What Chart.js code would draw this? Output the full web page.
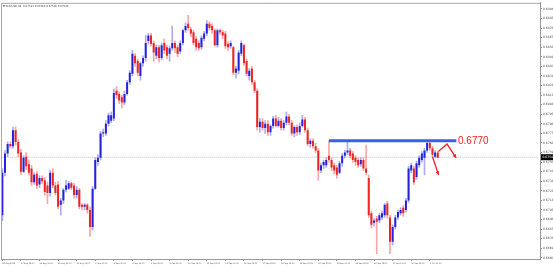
<!DOCTYPE html>
<html>
<head>
<meta charset="utf-8">
<script src="https://cdn.jsdelivr.net/npm/chart.js@4.4.0/dist/chart.umd.min.js"></script>
<style>
  html, body { margin: 0; padding: 0; background: #fff; }
  #wrap { width: 553px; height: 267px; position: relative; }
</style>
</head>
<body>
<div id="wrap"><canvas id="chart"></canvas></div>
<script>
// AUDUSD H4

const tickLabels = [
  "26 Aug 2019", "27 Aug 04:00", "28 Aug 08:00", "29 Aug 12:00", "30 Aug 16:00",
  "2 Sep 20:00", "4 Sep 00:00", "5 Sep 04:00", "6 Sep 08:00", "9 Sep 12:00",
  "10 Sep 16:00", "11 Sep 20:00", "13 Sep 00:00", "16 Sep 04:00", "17 Sep 08:00",
  "18 Sep 12:00", "19 Sep 16:00", "20 Sep 20:00", "24 Sep 00:00", "25 Sep 04:00",
  "26 Sep 08:00", "27 Sep 12:00", "30 Sep 16:00", "1 Oct 20:00"
];

const priceTicks = [
  0.6894, 0.6885, 0.6876, 0.6867, 0.6858, 0.6849, 0.6840, 0.6831, 0.6822,
  0.6813, 0.6804, 0.6795, 0.6786, 0.6777, 0.6768, 0.6759, 0.6750, 0.6741,
  0.6732, 0.6723, 0.6714, 0.6705, 0.6696, 0.6687, 0.6678, 0.6669, 0.6660
];

const open = [
  0.6700, 0.6740, 0.6758, 0.6767, 0.6765, 0.6780, 0.6769, 0.6759, 0.6741, 0.6755,
  0.6748, 0.6744, 0.6731, 0.6739, 0.6729, 0.6735, 0.6733, 0.6728, 0.6721, 0.6740,
  0.6728, 0.6729, 0.6710, 0.6714, 0.6724, 0.6725, 0.6730, 0.6728, 0.6719, 0.6724,
  0.6710, 0.6708, 0.6710, 0.6705, 0.6689, 0.6725, 0.6750, 0.6754, 0.6777, 0.6777,
  0.6786, 0.6789, 0.6791, 0.6817, 0.6814, 0.6811, 0.6806, 0.6814, 0.6825, 0.6833,
  0.6850, 0.6845, 0.6831, 0.6843, 0.6848, 0.6864, 0.6869, 0.6862, 0.6850, 0.6858,
  0.6848, 0.6862, 0.6858, 0.6852, 0.6857, 0.6862, 0.6858, 0.6854, 0.6862, 0.6874,
  0.6880, 0.6875, 0.6872, 0.6866, 0.6862, 0.6858, 0.6866, 0.6871, 0.6880, 0.6878,
  0.6874, 0.6860, 0.6874, 0.6872, 0.6871, 0.6861, 0.6859, 0.6858, 0.6834, 0.6836,
  0.6852, 0.6860, 0.6845, 0.6831, 0.6838, 0.6825, 0.6817, 0.6783, 0.6788, 0.6782,
  0.6786, 0.6778, 0.6784, 0.6791, 0.6784, 0.6789, 0.6782, 0.6787, 0.6793, 0.6787,
  0.6777, 0.6783, 0.6778, 0.6784, 0.6790, 0.6780, 0.6767, 0.6770, 0.6765, 0.6761,
  0.6742, 0.6747, 0.6747, 0.6756, 0.6752, 0.6747, 0.6745, 0.6740, 0.6749, 0.6756,
  0.6759, 0.6761, 0.6758, 0.6754, 0.6752, 0.6748, 0.6752, 0.6744, 0.6735, 0.6702,
  0.6693, 0.6697, 0.6695, 0.6698, 0.6700, 0.6711, 0.6698, 0.6675, 0.6689, 0.6698,
  0.6702, 0.6707, 0.6705, 0.6714, 0.6742, 0.6744, 0.6736, 0.6747, 0.6752, 0.6754,
  0.6761, 0.6768, 0.6763, 0.6755, 0.6759
];

const high = [
  0.6744, 0.6761, 0.6769, 0.6769, 0.6783, 0.6783, 0.6771, 0.6762, 0.6756, 0.6759,
  0.6752, 0.6747, 0.6740, 0.6741, 0.6737, 0.6737, 0.6736, 0.6731, 0.6742, 0.6744,
  0.6731, 0.6732, 0.6716, 0.6725, 0.6733, 0.6732, 0.6731, 0.6730, 0.6727, 0.6725,
  0.6711, 0.6711, 0.6711, 0.6708, 0.6727, 0.6754, 0.6757, 0.6779, 0.6781, 0.6789,
  0.6796, 0.6797, 0.6819, 0.6821, 0.6816, 0.6813, 0.6817, 0.6827, 0.6836, 0.6855,
  0.6852, 0.6847, 0.6844, 0.6850, 0.6869, 0.6871, 0.6871, 0.6864, 0.6860, 0.6860,
  0.6862, 0.6866, 0.6860, 0.6859, 0.6878, 0.6864, 0.6860, 0.6864, 0.6875, 0.6881,
  0.6888, 0.6877, 0.6874, 0.6868, 0.6864, 0.6869, 0.6873, 0.6883, 0.6882, 0.6880,
  0.6875, 0.6875, 0.6875, 0.6874, 0.6873, 0.6863, 0.6864, 0.6859, 0.6840, 0.6855,
  0.6864, 0.6861, 0.6847, 0.6838, 0.6840, 0.6827, 0.6819, 0.6791, 0.6791, 0.6789,
  0.6789, 0.6785, 0.6793, 0.6794, 0.6792, 0.6791, 0.6789, 0.6797, 0.6795, 0.6789,
  0.6784, 0.6785, 0.6787, 0.6794, 0.6792, 0.6782, 0.6772, 0.6772, 0.6768, 0.6763,
  0.6749, 0.6752, 0.6754, 0.6770, 0.6754, 0.6749, 0.6747, 0.6751, 0.6758, 0.6761,
  0.6769, 0.6763, 0.6760, 0.6756, 0.6754, 0.6754, 0.6754, 0.6766, 0.6738, 0.6704,
  0.6697, 0.6699, 0.6702, 0.6704, 0.6711, 0.6713, 0.6700, 0.6691, 0.6700, 0.6705,
  0.6707, 0.6709, 0.6716, 0.6746, 0.6749, 0.6746, 0.6751, 0.6756, 0.6760, 0.6763,
  0.6770, 0.6770, 0.6765, 0.6761, 0.6760
];

const low = [
  0.6695, 0.6737, 0.6755, 0.6763, 0.6763, 0.6766, 0.6755, 0.6738, 0.6740, 0.6743,
  0.6738, 0.6728, 0.6729, 0.6725, 0.6726, 0.6730, 0.6719, 0.6711, 0.6718, 0.6726,
  0.6719, 0.6706, 0.6700, 0.6711, 0.6722, 0.6724, 0.6724, 0.6716, 0.6716, 0.6706,
  0.6705, 0.6705, 0.6702, 0.6680, 0.6686, 0.6724, 0.6747, 0.6752, 0.6774, 0.6775,
  0.6784, 0.6787, 0.6789, 0.6810, 0.6805, 0.6801, 0.6804, 0.6813, 0.6823, 0.6831,
  0.6840, 0.6831, 0.6827, 0.6840, 0.6845, 0.6861, 0.6859, 0.6845, 0.6847, 0.6844,
  0.6846, 0.6852, 0.6847, 0.6845, 0.6855, 0.6853, 0.6849, 0.6852, 0.6860, 0.6872,
  0.6874, 0.6868, 0.6860, 0.6855, 0.6855, 0.6856, 0.6864, 0.6869, 0.6874, 0.6871,
  0.6859, 0.6858, 0.6870, 0.6866, 0.6857, 0.6855, 0.6857, 0.6832, 0.6829, 0.6833,
  0.6850, 0.6841, 0.6831, 0.6827, 0.6823, 0.6815, 0.6780, 0.6778, 0.6780, 0.6777,
  0.6775, 0.6775, 0.6782, 0.6783, 0.6783, 0.6780, 0.6780, 0.6785, 0.6785, 0.6775,
  0.6774, 0.6775, 0.6776, 0.6783, 0.6778, 0.6765, 0.6764, 0.6763, 0.6759, 0.6733,
  0.6740, 0.6744, 0.6745, 0.6750, 0.6742, 0.6739, 0.6735, 0.6739, 0.6746, 0.6754,
  0.6757, 0.6754, 0.6750, 0.6747, 0.6745, 0.6746, 0.6742, 0.6738, 0.6698, 0.6688,
  0.6690, 0.6664, 0.6693, 0.6696, 0.6698, 0.6697, 0.6664, 0.6672, 0.6687, 0.6696,
  0.6700, 0.6699, 0.6703, 0.6712, 0.6740, 0.6729, 0.6734, 0.6745, 0.6750, 0.6738,
  0.6759, 0.6761, 0.6755, 0.6754, 0.6754
];

const close = [
  0.6740, 0.6758, 0.6767, 0.6765, 0.6780, 0.6769, 0.6758, 0.6741, 0.6754, 0.6746,
  0.6740, 0.6731, 0.6738, 0.6728, 0.6735, 0.6732, 0.6722, 0.6721, 0.6740, 0.6728,
  0.6721, 0.6708, 0.6714, 0.6724, 0.6728, 0.6730, 0.6726, 0.6719, 0.6724, 0.6708,
  0.6708, 0.6710, 0.6705, 0.6689, 0.6725, 0.6752, 0.6754, 0.6777, 0.6778, 0.6786,
  0.6794, 0.6794, 0.6815, 0.6813, 0.6808, 0.6806, 0.6814, 0.6825, 0.6834, 0.6852,
  0.6843, 0.6834, 0.6843, 0.6848, 0.6862, 0.6869, 0.6861, 0.6853, 0.6858, 0.6848,
  0.6860, 0.6855, 0.6850, 0.6857, 0.6862, 0.6857, 0.6852, 0.6862, 0.6874, 0.6878,
  0.6876, 0.6871, 0.6862, 0.6858, 0.6857, 0.6867, 0.6871, 0.6880, 0.6876, 0.6874,
  0.6860, 0.6874, 0.6872, 0.6869, 0.6859, 0.6858, 0.6862, 0.6834, 0.6838, 0.6853,
  0.6862, 0.6843, 0.6833, 0.6836, 0.6825, 0.6817, 0.6783, 0.6788, 0.6782, 0.6786,
  0.6778, 0.6784, 0.6791, 0.6784, 0.6789, 0.6782, 0.6787, 0.6793, 0.6787, 0.6777,
  0.6783, 0.6778, 0.6784, 0.6790, 0.6780, 0.6767, 0.6770, 0.6765, 0.6761, 0.6742,
  0.6747, 0.6750, 0.6752, 0.6752, 0.6745, 0.6742, 0.6738, 0.6749, 0.6756, 0.6759,
  0.6761, 0.6756, 0.6752, 0.6750, 0.6747, 0.6752, 0.6744, 0.6740, 0.6700, 0.6691,
  0.6695, 0.6694, 0.6700, 0.6702, 0.6710, 0.6700, 0.6675, 0.6689, 0.6698, 0.6703,
  0.6705, 0.6702, 0.6714, 0.6744, 0.6747, 0.6731, 0.6749, 0.6754, 0.6758, 0.6761,
  0.6768, 0.6763, 0.6757, 0.6759, 0.6754
];

const slotCount = 203;      // bars + empty space on the right (chart shift)
const labelEvery = 7;
const levelPrice = 0.6770;  // drawn resistance
const levelFrom = 123;
const levelTo = 171;
const lastPrice = 0.67546;

// annotation arrows, as [bar index, price]
const arrowUpDown = [[164.2, 0.6760], [167.5, 0.6767], [170.9, 0.6754]];
const arrowDown = [[162.0, 0.6755], [164.3, 0.6738]];

const UP = "#2323dc";
const DOWN = "#ee2424";

const categories = [];
for (let i = 0; i < slotCount; i++) {
  const k = i / labelEvery;
  categories.push(Number.isInteger(k) && tickLabels[k] ? tickLabels[k] : "");
}

const isUp = open.map((o, i) => close[i] >= o);

const levelData = new Array(slotCount).fill(null);
levelData[levelFrom] = levelPrice;
levelData[levelTo] = levelPrice;

const bidData = new Array(slotCount).fill(null);
bidData[0] = lastPrice;
bidData[slotCount - 1] = lastPrice;

const data = {
  labels: categories,
  datasets: [
    {
      type: "bar",
      data: low.map((l, i) => [l, high[i]]),
      backgroundColor: isUp.map((u) => (u ? "rgba(70,70,225,0.45)" : "rgba(235,60,60,0.45)")),
      barThickness: 1,
      grouped: false,
      order: 3,
    },
    {
      type: "bar",
      data: open.map((o, i) => [o, close[i]]),
      backgroundColor: isUp.map((u) => (u ? UP : DOWN)),
      barPercentage: 0.75,
      categoryPercentage: 1,
      minBarLength: 1,
      grouped: false,
      order: 2,
    },
    {
      type: "line",
      data: levelData,
      borderColor: "#3b5fe0",
      borderWidth: 3,
      pointRadius: 0,
      spanGaps: true,
      order: 1,
    },
    {
      type: "line",
      data: bidData,
      borderColor: "#bcbcbc",
      borderWidth: 1,
      borderDash: [1, 1],
      pointRadius: 0,
      spanGaps: true,
      order: 4,
    },
  ],
};

function drawArrow(ctx, chart, pts) {
  const xs = chart.scales.x, ys = chart.scales.y;
  const p = pts.map(([i, v]) => [
    xs.getPixelForValue(0) + i * (xs.getPixelForValue(1) - xs.getPixelForValue(0)),
    ys.getPixelForValue(v),
  ]);
  ctx.beginPath();
  ctx.moveTo(p[0][0], p[0][1]);
  for (let k = 1; k < p.length; k++) ctx.lineTo(p[k][0], p[k][1]);
  ctx.stroke();
  const [x1, y1] = p[p.length - 2], [x2, y2] = p[p.length - 1];
  const a = Math.atan2(y2 - y1, x2 - x1);
  ctx.beginPath();
  ctx.moveTo(x2, y2);
  ctx.lineTo(x2 - 4 * Math.cos(a - 0.5), y2 - 4 * Math.sin(a - 0.5));
  ctx.lineTo(x2 - 4 * Math.cos(a + 0.5), y2 - 4 * Math.sin(a + 0.5));
  ctx.closePath();
  ctx.fill();
}

const extras = {
  id: "extras",
  afterDatasetsDraw(chart) {
    const ctx = chart.ctx;
    const area = chart.chartArea;
    const ys = chart.scales.y;
    ctx.save();

    // frame (left and top)
    ctx.strokeStyle = "#a8a8a8";
    ctx.lineWidth = 1;
    ctx.beginPath();
    ctx.moveTo(area.left + 0.5, area.bottom);
    ctx.lineTo(area.left + 0.5, area.top + 0.5);
    ctx.lineTo(area.right, area.top + 0.5);
    ctx.stroke();

    // header
    ctx.fillStyle = "#444";
    ctx.font = "2.6px 'DejaVu Sans'";
    ctx.textBaseline = "middle";
    ctx.fillText("\u25BC AUDUSD,H4  0.67513 0.67560 0.67536 0.67546", 3, 6);

    // arrows
    ctx.strokeStyle = "#f02020";
    ctx.fillStyle = "#f02020";
    ctx.lineWidth = 1.3;
    drawArrow(ctx, chart, arrowUpDown);
    drawArrow(ctx, chart, arrowDown);

    // level text
    ctx.fillStyle = "#f02020";
    ctx.font = "10px 'Liberation Sans', Arial";
    ctx.textBaseline = "middle";
    ctx.fillText("0.6770", 458, ys.getPixelForValue(levelPrice) + 0.5);

    // current price box
    const by = ys.getPixelForValue(lastPrice);
    ctx.fillStyle = "#000";
    ctx.fillRect(area.right + 1, by - 3, 13, 6);
    ctx.fillStyle = "#fff";
    ctx.font = "3px 'DejaVu Sans'";
    ctx.fillText(lastPrice.toFixed(5), area.right + 2.5, by);
    ctx.restore();
  },
};

const options = {
  responsive: true,
  maintainAspectRatio: false,
  animation: false,
  layout: { padding: { left: 1, top: 2, right: 0, bottom: 0 } },
  plugins: {
    legend: { display: false },
    tooltip: { enabled: false },
  },
  scales: {
    x: {
      type: "category",
      offset: true,
      grid: {
        drawOnChartArea: false,
        offset: false,
        tickLength: 2,
        color: "#999",
      },
      border: { display: true, color: "#999" },
      afterBuildTicks: (s) => {
        s.ticks = tickLabels.map((t, k) => ({ value: k * labelEvery }));
      },
      afterFit: (s) => {
        s.height = 8;
      },
      ticks: {
        autoSkip: false,
        maxRotation: 0,
        minRotation: 0,
        align: "start",
        padding: 1,
        color: "#555",
        font: { size: 2, family: "DejaVu Sans" },
        callback: (v) => categories[v],
      },
    },
    y: {
      position: "right",
      min: 0.665888,
      max: 0.689981,
      bounds: "data",
      grid: {
        drawOnChartArea: false,
        tickLength: 2,
        color: "#999",
      },
      border: { display: true, color: "#999" },
      afterBuildTicks: (s) => {
        s.ticks = priceTicks.map((v) => ({ value: v }));
      },
      afterFit: (s) => {
        s.width = 13;
      },
      ticks: {
        padding: 1,
        color: "#555",
        font: { size: 3, family: "DejaVu Sans" },
        callback: (v) => v.toFixed(5),
      },
    },
  },
};

var chart = new Chart(document.getElementById("chart").getContext("2d"), {
  type: "bar",
  data: data,
  options: options,
  plugins: [extras],
});
</script>
</body>
</html>
